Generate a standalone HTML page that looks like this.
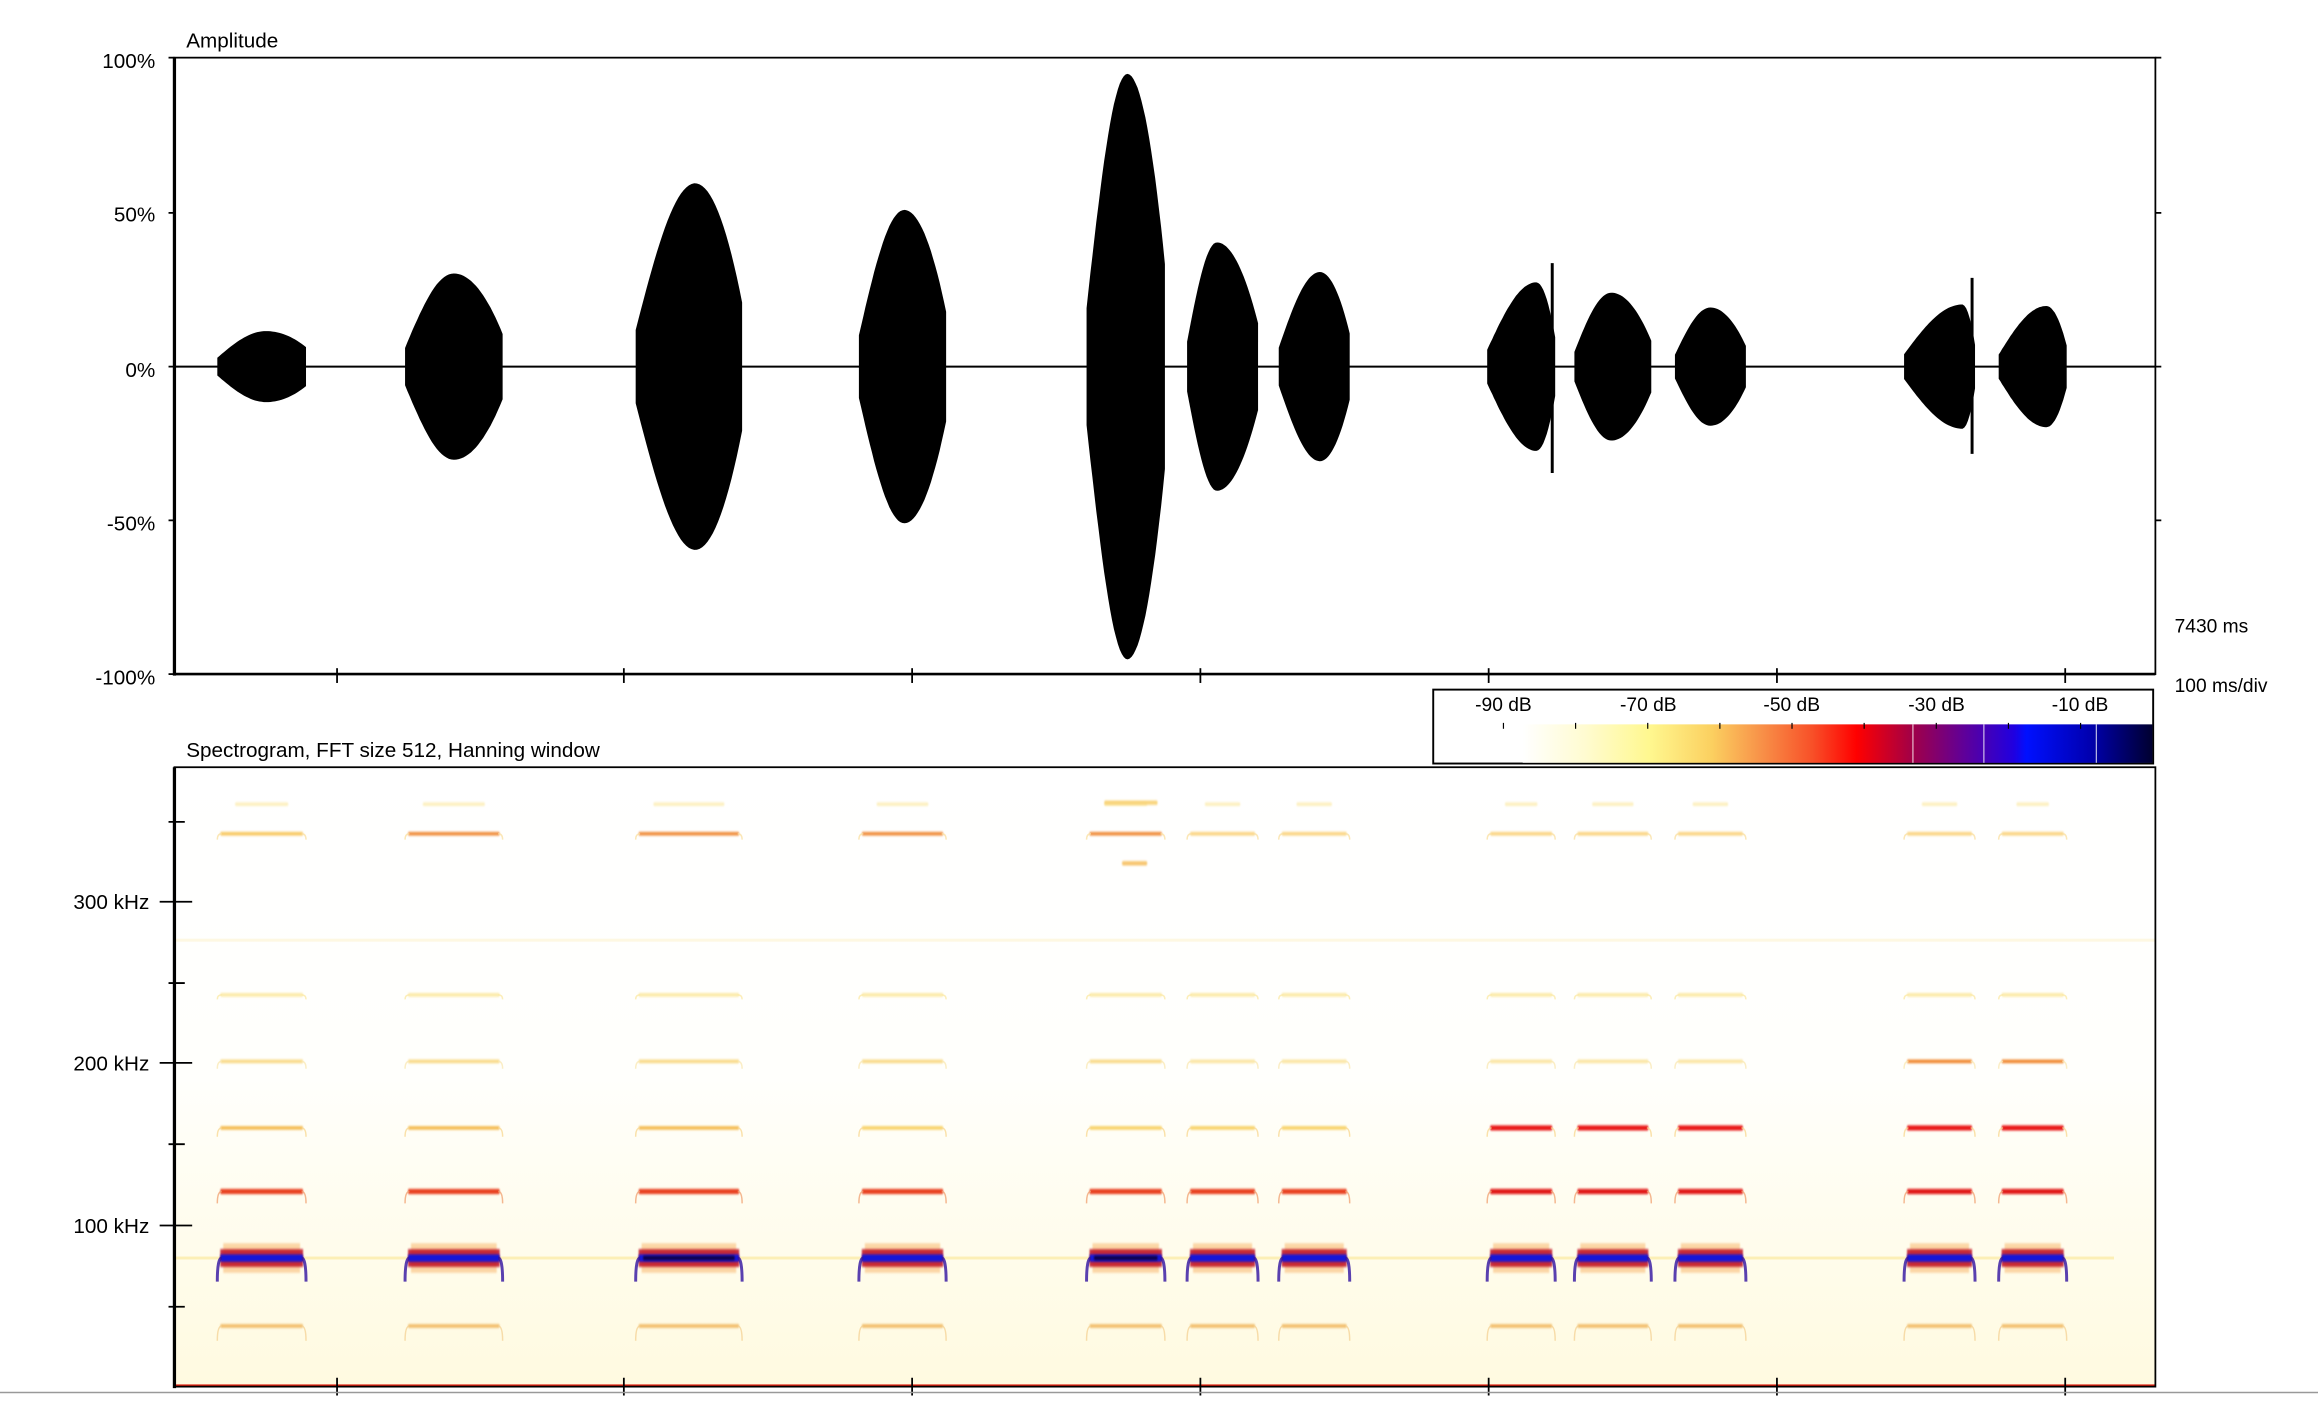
<!DOCTYPE html>
<html><head><meta charset="utf-8"><style>
html,body{margin:0;padding:0;background:#fff;}
svg{display:block;}
text{font-family:"Liberation Sans",sans-serif;fill:#000;}
</style></head><body>
<svg id="s" width="2318" height="1402" viewBox="0 0 1568 948.4" preserveAspectRatio="none" xmlns="http://www.w3.org/2000/svg">
<defs>
<linearGradient id="cb" x1="0" x2="1" y1="0" y2="0">
<stop offset="0" stop-color="#ffffff"/>
<stop offset="0.1" stop-color="#fffbd0"/>
<stop offset="0.2" stop-color="#fff890"/>
<stop offset="0.3" stop-color="#fbd060"/>
<stop offset="0.38" stop-color="#f89048"/>
<stop offset="0.46" stop-color="#f85028"/>
<stop offset="0.53" stop-color="#ff0000"/>
<stop offset="0.62" stop-color="#a00048"/>
<stop offset="0.7" stop-color="#600098"/>
<stop offset="0.78" stop-color="#2000e0"/>
<stop offset="0.8" stop-color="#0010ff"/>
<stop offset="0.9" stop-color="#0000b0"/>
<stop offset="1" stop-color="#000030"/>
</linearGradient>
<linearGradient id="bg" x1="0" x2="0" y1="0" y2="1">
<stop offset="0" stop-color="#ffffff"/>
<stop offset="0.5" stop-color="#fffffc"/>
<stop offset="0.7" stop-color="#fffdf0"/>
<stop offset="1" stop-color="#fffae0"/>
</linearGradient>
<filter id="bl" x="-10%" y="-100%" width="120%" height="300%"><feGaussianBlur stdDeviation="0.5 0.7"/></filter>
</defs>
<text x="126" y="32" font-size="14">Amplitude</text>
<g font-size="14" text-anchor="end">
<text x="105" y="46">100%</text><text x="105" y="150">50%</text><text x="105" y="255">0%</text>
<text x="105" y="359">-50%</text><text x="105" y="463">-100%</text>
</g>
<g id="wave"></g>
<line x1="118" y1="248" x2="1458" y2="248" stroke="#000" stroke-width="1.3"/>
<rect x="118" y="39" width="1340" height="417" fill="none" stroke="#000" stroke-width="1.2"/>
<line x1="118" y1="39" x2="118" y2="457" stroke="#000" stroke-width="2.2"/>
<line x1="117" y1="456" x2="1458" y2="456" stroke="#000" stroke-width="1.8"/>
<g stroke="#000" stroke-width="1.2">
<line x1="114" y1="39" x2="118" y2="39"/><line x1="114" y1="144" x2="118" y2="144"/><line x1="114" y1="248" x2="118" y2="248"/><line x1="114" y1="352" x2="118" y2="352"/><line x1="114" y1="456" x2="118" y2="456"/>
<line x1="1458" y1="39" x2="1462" y2="39"/><line x1="1458" y1="144" x2="1462" y2="144"/><line x1="1458" y1="248" x2="1462" y2="248"/><line x1="1458" y1="352" x2="1462" y2="352"/>
</g>
<g id="tt" stroke="#000" stroke-width="1.2"></g>
<text x="1471" y="428" font-size="13">7430 ms</text>
<text x="1471" y="468" font-size="13">100 ms/div</text>
<rect x="969.5" y="466.5" width="487" height="50" fill="#fff" stroke="#000" stroke-width="1.3"/>
<rect x="1030" y="490" width="426" height="26" fill="url(#cb)"/>
<g stroke="#fff" stroke-width="0.6"><line x1="1294" y1="490" x2="1294" y2="516"/><line x1="1342" y1="490" x2="1342" y2="516"/><line x1="1418" y1="490" x2="1418" y2="516"/></g>
<g font-size="13" text-anchor="middle">
<text x="1017" y="481">-90 dB</text><text x="1115" y="481">-70 dB</text><text x="1212" y="481">-50 dB</text><text x="1310" y="481">-30 dB</text><text x="1407" y="481">-10 dB</text>
</g>
<g id="cbt" stroke="#000" stroke-width="0.8"></g>
<text x="126" y="512" font-size="14">Spectrogram, FFT size 512, Hanning window</text>
<rect x="118" y="519" width="1340" height="419" fill="url(#bg)"/>
<rect x="118" y="850" width="1312" height="2" fill="#fbe9a0" opacity="0.7"/>
<g id="spec"></g>
<rect x="118" y="936.5" width="1340" height="2" fill="#e02010"/>
<rect x="118" y="519" width="1340" height="419" fill="none" stroke="#000" stroke-width="1.2"/>
<line x1="118" y1="519" x2="118" y2="939" stroke="#000" stroke-width="2.2"/>
<g font-size="14" text-anchor="end">
<text x="101" y="834">100 kHz</text><text x="101" y="724">200 kHz</text><text x="101" y="615">300 kHz</text>
</g>
<g stroke="#000" stroke-width="1.2">
<line x1="108" y1="829" x2="130" y2="829"/><line x1="108" y1="719" x2="130" y2="719"/><line x1="108" y1="610" x2="130" y2="610"/>
<line x1="114" y1="884" x2="125" y2="884"/><line x1="114" y1="774" x2="125" y2="774"/><line x1="114" y1="665" x2="125" y2="665"/><line x1="114" y1="556" x2="125" y2="556"/>
</g>
<g id="tb" stroke="#000" stroke-width="1.2"></g>
<line x1="0" y1="942" x2="1568" y2="942" stroke="#999" stroke-width="1"/>
</svg>
<script>
const NS="http://www.w3.org/2000/svg";
function el(p,t,a){const e=document.createElementNS(NS,t);for(const k in a)e.setAttribute(k,a[k]);document.getElementById(p).appendChild(e);return e;}
const ticks=[228,422,617,812,1007,1202,1397];
ticks.forEach(x=>{el("tt","line",{x1:x,y1:452,x2:x,y2:462});el("tb","line",{x1:x,y1:932,x2:x,y2:944});});
for(let i=0;i<9;i++){const x=1017+i*48.8;el("cbt","line",{x1:x,y1:489,x2:x,y2:493});}
const calls=[[147,207,24,0.55],[274,340,63,0.5],[430,502,124,0.56],[581,640,106,0.52],[735,788,198,0.52],[803,851,84,0.42],[865,913,64,0.58],[1006,1052,57,0.72],[1065,1117,50,0.48],[1133,1181,40,0.5],[1288,1336,42,0.82],[1352,1398,41,0.7]];
calls.forEach(([a,b,A,p],ci)=>{
  const N=40;let up=[],dn=[];
  for(let i=0;i<=N;i++){const t=i/N;let e;
    if(t<p){const u=t/p;e=0.2+0.8*Math.sin(u*Math.PI/2);} else {const u=(t-p)/(1-p);e=1-0.65*u*u;}
    if(ci==0){e=t<p?0.25+0.75*Math.sin(t/p*Math.PI/2):1-0.45*((t-p)/(1-p))**2;}
    const x=a+(b-a)*t;up.push(x.toFixed(1)+","+(248-A*e).toFixed(1));dn.push(x.toFixed(1)+","+(248+A*e).toFixed(1));}
  el("wave","polygon",{points:up.concat(dn.reverse()).join(" "),fill:"#000"});
});
el("wave","line",{x1:1050,y1:178,x2:1050,y2:320,stroke:"#000","stroke-width":2});
el("wave","line",{x1:1334,y1:188,x2:1334,y2:307,stroke:"#000","stroke-width":2});
function band(a,b,y,col,w,hook,op,hcol,hw){
  el("spec","rect",{x:a+2,y:y-w/2,width:b-a-4,height:w,rx:1,fill:col,opacity:op,filter:"url(#bl)"});
  if(hook>0){
    const hc=hcol||col,ww=hw||1;
    el("spec","path",{d:`M${a},${y+hook} Q${a},${y} ${a+3},${y}`,fill:"none",stroke:hc,"stroke-width":ww,opacity:op*0.8});
    el("spec","path",{d:`M${b},${y+hook} Q${b},${y} ${b-3},${y}`,fill:"none",stroke:hc,"stroke-width":ww,opacity:op*0.8});
  }
}
calls.forEach(([a,b],ci)=>{
  const late=ci>=7;
  el("spec","rect",{x:a+4,y:841,width:b-a-8,height:20,fill:"#f8b060",opacity:0.5,filter:"url(#bl)"});
  el("spec","rect",{x:a+2,y:845,width:b-a-4,height:12,fill:"#c01020",opacity:0.85,filter:"url(#bl)"});
  band(a,b,851,"#1818d8",5,16,1,"#3010a0",2);
  if(ci==2||ci==4) band(a+3,b-3,851,"#100040",3,0,0.9);
  band(a,b,806,late?"#e00808":"#e83818",3.5,8,0.95,"#f0a070",1);
  band(a,b,763,late?"#e81010":(ci<3?"#f4b848":"#f8d060"),late?3.5:2.5,6,0.95,"#f8d890",1);
  band(a,b,718,ci>=10?"#f08020":(ci<5?"#f8d880":"#fae49c"),2.5,5,0.9,"#fae8b0",1);
  band(a,b,673,"#fbe8a0",2.5,3,0.9);
  band(a,b,897,"#f0b860",2.5,10,0.9,"#f4d090",1);
  const c563=(ci>=1&&ci<=4)?"#f08a38":(ci==0?"#f8c860":"#fad480");
  band(a,b,564,c563,2.5,4,0.95,"#fae0a0",1);
  band(a+10,b-10,544,"#fcecb0",2.5,0,0.8);
});
band(757,778,584,"#f6c060",3,0,0.9);
band(745,785,543,"#f8d070",3,0,0.9);
el("spec","rect",{x:118,y:635,width:1340,height:2,fill:"#fdf4d0",opacity:0.6});
</script>
</body></html>
